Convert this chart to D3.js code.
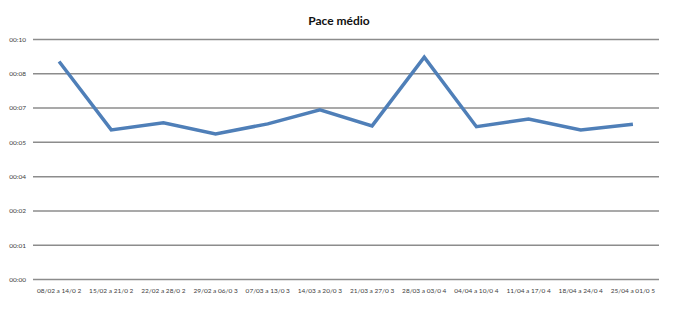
<!DOCTYPE html>
<html>
<head>
<meta charset="utf-8">
<script src="https://cdn.jsdelivr.net/npm/d3@7"></script>
<style>
    body { margin: 0; background: #fff; }
    .grid line { stroke: #8c8c8c; stroke-width: 1.5; }
    .tick-label { font-family: Lato, "Liberation Sans", sans-serif; font-size: 6.5px; fill: #404040; }
    .title { font-family: Lato, "Open Sans", sans-serif; font-size: 12px; font-weight: bold; fill: #111; }
    .pace { fill: none; stroke: #4f7fb8; stroke-width: 3.5; stroke-linejoin: miter; }
</style>
</head>
<body>
<svg class="chart"></svg>
<script>
// semanas e pace medio (segundos por km)
var weeks = ["08/02 a 14/0 2", "15/02 a 21/0 2", "22/02 a 28/0 2", "29/02 a 06/0 3",
             "07/03 a 13/0 3", "14/03 a 20/0 3", "21/03 a 27/0 3", "28/03 a 03/0 4",
             "04/04 a 10/0 4", "11/04 a 17/0 4", "18/04 a 24/0 4", "25/04 a 01/0 5"];
var paceSec = [545, 374, 392, 364, 389, 424, 384, 556, 382, 401, 374, 388];
var yTicks = [0, 1, 2, 3, 4, 5, 6, 7].map(function(i) { return i * 600 / 7; });

var width = 676, height = 309;
var margin = {top: 39.5, right: 17, bottom: 29.5, left: 33};

var chart = d3.select(".chart").attr("width", width).attr("height", height);

var x = d3.scaleBand()
    .domain(weeks)
    .range([margin.left, width - margin.right]);

var y = d3.scaleLinear()
    .domain([0, 600])
    .range([height - margin.bottom, margin.top]);

function fmt(s) {
    var m = Math.floor(s / 60 + 1e-9);
    return "00:" + (m < 10 ? "0" + m : m);
}

var grid = chart.append("g").attr("class", "grid");
grid.selectAll("line")
    .data(yTicks)
    .enter().append("line")
    .attr("x1", margin.left).attr("x2", width - margin.right)
    .attr("y1", function(d) { return y(d); })
    .attr("y2", function(d) { return y(d); });

chart.append("g").selectAll("text")
    .data(yTicks)
    .enter().append("text")
    .attr("class", "tick-label")
    .attr("x", 26).attr("text-anchor", "end")
    .attr("y", function(d) { return y(d) + 2.3; })
    .text(fmt);

chart.append("g").selectAll("text")
    .data(weeks)
    .enter().append("text")
    .attr("class", "tick-label")
    .attr("x", function(d) { return x(d) + x.bandwidth() / 2; })
    .attr("y", height - margin.bottom + 13)
    .attr("text-anchor", "middle")
    .text(function(d) { return d; });

var line = d3.line()
    .x(function(d, i) { return x(weeks[i]) + x.bandwidth() / 2; })
    .y(function(d) { return y(d); });

chart.append("path")
    .attr("class", "pace")
    .attr("d", line(paceSec));

chart.append("text")
    .attr("class", "title")
    .attr("x", 339).attr("y", 25)
    .attr("text-anchor", "middle")
    .text("Pace médio");
</script>
</body>
</html>
